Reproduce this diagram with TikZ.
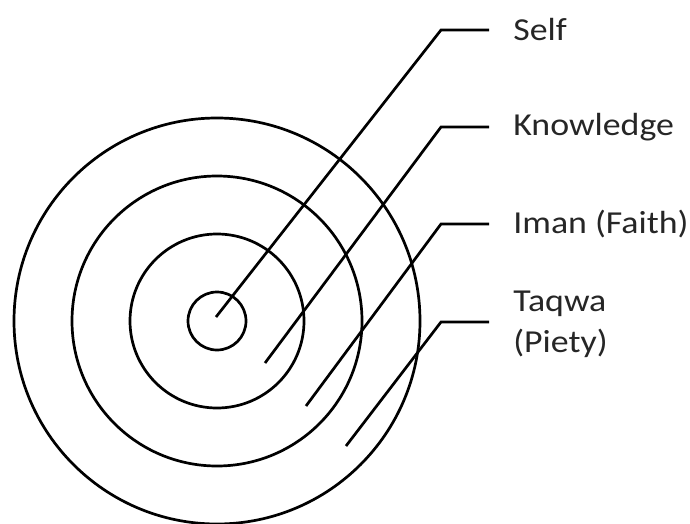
\documentclass[tikz,border=0pt]{standalone}
\usepackage{fontspec}
\setmainfont{Carlito}[FakeStretch=1.12]
\usetikzlibrary{positioning}

\begin{document}
\begin{tikzpicture}[x=1pt,y=-1pt,line width=2.7pt,
  ring/.style={draw,circle,inner sep=0pt},
  lbl/.style={anchor=west,inner xsep=23pt,inner ysep=0pt,align=left,
    text=black!85,font=\fontsize{32}{41}\selectfont}]
\useasboundingbox (0,0) rectangle (690,524);
% rings
\coordinate (c) at (217,321);
\node[ring,minimum size=58pt] (r0) at (c) {};
\node[ring,minimum size=174pt] (r1) at (c) {};
\node[ring,minimum size=290pt] (r2) at (c) {};
\node[ring,minimum size=406pt] (r3) at (c) {};
% labels
\node[lbl] (self) at (489,30) {Self};
\node[lbl] (know) at (489,127) {Knowledge};
\node[lbl] (iman) at (489,224) {Iman (Faith)};
\node[lbl] (taqwa) at (489,324) {Taqwa\\(Piety)};
% leaders
\coordinate (s0) at (216,317);
\coordinate (s1) at (265,363);
\coordinate (s2) at (306,406);
\coordinate (s3) at (346,446);
\coordinate (k0) at (441,30);
\coordinate (k1) at (441,127);
\coordinate (k2) at (441,224);
\coordinate (k3) at (441,322);
\draw (s0) -- (k0) -- (self.west |- k0);
\draw (s1) -- (k1) -- (know.west |- k1);
\draw (s2) -- (k2) -- (iman.west |- k2);
\draw (s3) -- (k3) -- (taqwa.west |- k3);
\end{tikzpicture}
\end{document}
